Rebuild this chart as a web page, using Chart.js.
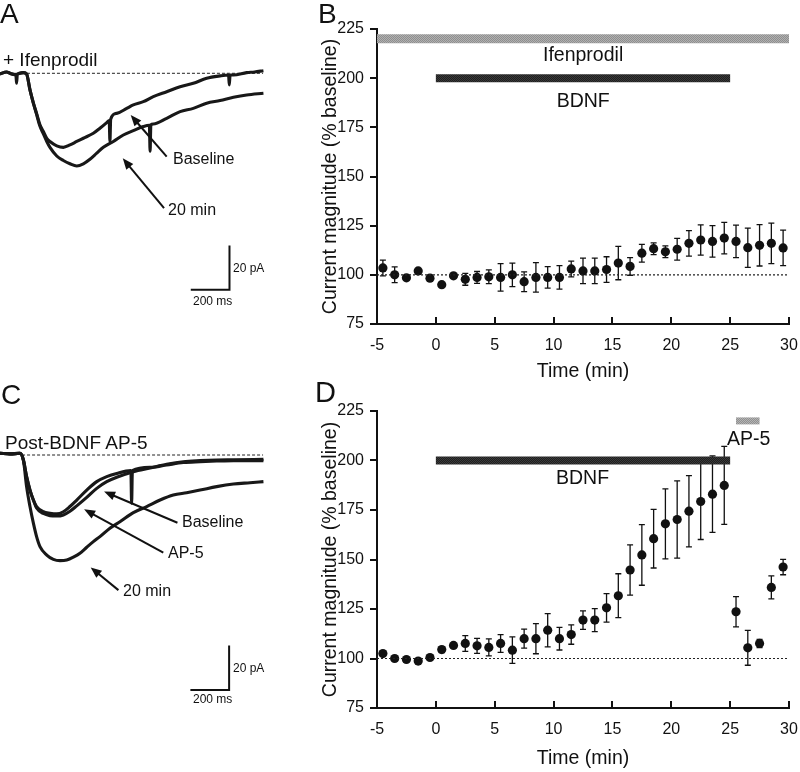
<!DOCTYPE html>
<html>
<head>
<meta charset="utf-8">
<title>BDNF potentiation of NMDA currents</title>
<script src="https://cdn.jsdelivr.net/npm/chart.js@4.4.1/dist/chart.umd.min.js"></script>
<style>
  body { margin: 0; background: #fff; }
  #fig { position: relative; width: 800px; height: 772px; overflow: hidden;
         font-family: "Liberation Sans", Arial, Helvetica, sans-serif; color: #111; }
  #fig canvas { position: absolute; }
  .lbl { position: absolute; line-height: 1; white-space: nowrap; }
  .narrow { font-family: "Liberation Sans Narrow", "Liberation Sans", Arial, sans-serif; font-stretch: condensed; }
</style>
</head>
<body>
<div id="fig">
  <canvas id="chartA" width="300" height="380" style="left:0;top:0"></canvas>
  <canvas id="chartB" width="500" height="387" style="left:300px;top:0"></canvas>
  <canvas id="chartC" width="300" height="392" style="left:0;top:380px"></canvas>
  <canvas id="chartD" width="500" height="387" style="left:300px;top:385px"></canvas>

  <div class="lbl" style="left:0;top:0;font-size:28px">A</div>
  <div class="lbl" style="left:318px;top:0;font-size:28px">B</div>
  <div class="lbl" style="left:1px;top:381px;font-size:28px">C</div>
  <div class="lbl" style="left:315px;top:378px;font-size:29px">D</div>

  <div class="lbl" style="left:3px;top:50px;font-size:19px">+ Ifenprodil</div>
  <div class="lbl" style="left:173px;top:150.6px;font-size:16px">Baseline</div>
  <div class="lbl" style="left:168px;top:202px;font-size:16px">20 min</div>
  <div class="lbl narrow" style="left:233px;top:261.7px;font-size:12px">20 pA</div>
  <div class="lbl narrow" style="left:193px;top:295px;font-size:12px">200 ms</div>

  <div class="lbl" style="left:543px;top:44.8px;font-size:19.5px">Ifenprodil</div>
  <div class="lbl" style="left:556.7px;top:90.8px;font-size:19.5px">BDNF</div>

  <div class="lbl" style="left:5px;top:432.5px;font-size:19px">Post-BDNF AP-5</div>
  <div class="lbl" style="left:182px;top:514px;font-size:16px">Baseline</div>
  <div class="lbl" style="left:168px;top:544.6px;font-size:16px">AP-5</div>
  <div class="lbl" style="left:123px;top:583px;font-size:16px">20 min</div>
  <div class="lbl narrow" style="left:233px;top:661.7px;font-size:12px">20 pA</div>
  <div class="lbl narrow" style="left:193px;top:693.4px;font-size:12px">200 ms</div>

  <div class="lbl" style="left:556px;top:467.5px;font-size:19.5px">BDNF</div>
  <div class="lbl" style="left:727px;top:429.2px;font-size:19.5px">AP-5</div>
</div>

<script>
// ---- data: panels B and D (mean +/- SEM, % of baseline, one point per minute) ----
const timeMin = [-4.5, -3.5, -2.5, -1.5, -0.5, 0.5, 1.5, 2.5, 3.5, 4.5, 5.5, 6.5,
  7.5, 8.5, 9.5, 10.5, 11.5, 12.5, 13.5, 14.5, 15.5, 16.5, 17.5, 18.5, 19.5,
  20.5, 21.5, 22.5, 23.5, 24.5, 25.5, 26.5, 27.5, 28.5, 29.5];

const bMean = [103.5, 100, 98.5, 102, 98.3, 95, 99.5, 97.7, 98.7, 99, 98.7, 100,
  96.5, 98.7, 98.7, 98.7, 103, 102, 102, 102.7, 106, 104.3, 111, 113.3, 111.7,
  113, 116, 117.7, 117, 118.7, 117, 113.8, 115, 116, 113.7];
const bSem = [4, 4, 0.5, 0.5, 1.5, 0.5, 0.5, 3, 3, 3.5, 7, 6,
  5, 7.5, 5.5, 6, 4, 6.5, 6.5, 6.5, 8.5, 4.5, 4.5, 3, 3,
  5.5, 6.5, 7.7, 8, 8, 8.3, 10, 10.5, 10.3, 9];

const dMean = [102.5, 100, 99.5, 98.7, 100.5, 104.5, 106.6, 107.6, 106.4, 105.6, 107.6, 104.2,
  110, 110, 114.3, 110, 112.1, 119.4, 119.4, 125.6, 131.7, 144.7, 152.3, 160.5, 168,
  170.2, 174.4, 179.3, 183, 187.4, 123.6, 105.4, 107.6, 135.9, 146.2];
const dSem = [1, 0.5, 0.5, 0.5, 0.5, 1.5, 1, 4, 3.8, 4.3, 4.5, 6.7,
  4.8, 7.6, 8.4, 5.7, 4.9, 4.7, 5.8, 7.2, 11.1, 12.7, 15.3, 14.8, 17.7,
  19.5, 18, 19.2, 19.3, 19.7, 7.6, 8.8, 2.1, 5.8, 3.9];

// drug application periods (min) and the level (% baseline) the bar sits at
const bTreatments = [
  { drug: "Ifenprodil", from: -5, to: 30, level: 220 },
  { drug: "BDNF", from: 0, to: 25, level: 200 }
];
const dTreatments = [
  { drug: "BDNF", from: 0, to: 25, level: 200 },
  { drug: "AP-5", from: 25.5, to: 27.5, level: 220 }
];

// ---- data: panels A and C (example currents, time in ms, current in pA) ----
const aBaseT = [0, 35, 53, 80, 84, 88, 92, 124, 141, 159, 177, 194, 212, 230, 248, 265, 301,
  336, 371, 407, 442, 495, 530, 566, 579, 583, 587, 619, 672, 707, 760, 813, 884, 955,
  1025, 1096, 1167, 1212, 1216, 1220, 1238, 1308, 1350, 1397];
const aBaseI = [-0.3, 0.6, 0, -0.6, -0.5, -4.6, -0.3, 0.3, -0.3, -7.7, -13.8, -18.5, -23.8, -26.9,
  -30, -31.5, -33.5, -34.2, -33.1, -31.5, -30, -27.7, -25.4, -22.8, -21.8, -31.5, -21.2,
  -18.5, -16.2, -14.6, -13.1, -10.8, -8.5, -6.2, -4.6, -2.3, -1.2, -0.8, -5.4, -0.8,
  -0.8, 0.3, 0.6, 1.2];
const a20T = [0, 35, 53, 80, 124, 141, 159, 177, 194, 212, 230, 248, 265, 301, 336, 371,
  407, 442, 477, 513, 548, 601, 654, 707, 760, 792, 796, 800, 813, 884, 955, 1025, 1096,
  1167, 1238, 1308, 1397];
const a20I = [-0.3, 0.6, 0, -0.6, 0.3, -0.3, -7.7, -13.8, -19, -24.5, -28, -31.5, -34.2,
  -38.2, -40.3, -41.8, -42.8, -41.8, -39.7, -36.9, -34.2, -31.5, -28.5, -26.5, -24.6,
  -24, -36, -23.8, -23.4, -20.8, -17.7, -16.2, -13.8, -12.6, -11.1, -10, -9.2];

const cBaseT = [0, 53, 106, 124, 141, 159, 177, 194, 230, 265, 301, 336, 371, 407, 460,
  513, 566, 619, 694, 698, 702, 796, 884, 972, 1061, 1149, 1238, 1397];
const cBaseI = [0.8, 0.5, 0.8, -2.3, -10, -16.2, -20.8, -23.8, -26.2, -26.9, -27.2, -26.2,
  -23.8, -20.8, -16.2, -12.3, -10, -8.5, -7.2, -22.3, -7.2, -5.7, -4.6, -3.5, -3.1, -2.8,
  -2.6, -2.6];
const cAp5T = [0, 53, 106, 124, 141, 159, 177, 194, 230, 265, 301, 336, 371, 407, 460,
  513, 566, 619, 707, 796, 884, 972, 1061, 1149, 1238, 1397];
const cAp5I = [0.8, 0.5, 0.8, -2.3, -10, -16.2, -20.8, -24.5, -27, -28, -28.2, -27.7, -26,
  -23.5, -19.6, -15.4, -12.3, -10.3, -7.7, -6, -4.3, -3.1, -2.6, -2.3, -2.2, -2];
const c20T = [0, 53, 106, 124, 141, 159, 177, 194, 212, 248, 283, 318, 354, 389, 424, 460,
  495, 530, 583, 636, 707, 778, 849, 919, 990, 1061, 1149, 1238, 1326, 1397];
const c20I = [0.8, 0.5, 0.8, -2.3, -14.6, -23.8, -31.5, -37.7, -42.3, -46.2, -48.2, -48.8,
  -48.5, -47.2, -45.4, -42.6, -40, -37.7, -33.8, -30.8, -26.6, -23.8, -20.8, -18.5, -17.4,
  -16.2, -14.6, -13.4, -12.8, -12.3];

// scale bars (200 ms, 20 pA) and annotation arrows, in data units
const scaleBarMs = 200;
const scaleBarPa = 20;
const aScaleCorner = { x: 1217, y: -100 };
const cScaleCorner = { x: 1215, y: -108.5 };
const aArrows = [
  { from: [884, -38.5], to: [693, -19.3] },
  { from: [870, -62.3], to: [651, -39.3] }
];
const cArrows = [
  { from: [941, -31.3], to: [552, -16.9] },
  { from: [866, -45.1], to: [446, -25.1] },
  { from: [628, -62.4], to: [481, -51.9] }
];

// ---- styling ----
Chart.defaults.font.family = '"Liberation Sans", Arial, Helvetica, sans-serif';
Chart.defaults.color = "#111";
const ink = "#111";

// speckled fill so the drug bars look like the printed halftone
function speckle(light, dark) {
  const c = document.createElement("canvas");
  c.width = 2; c.height = 2;
  const g = c.getContext("2d");
  g.fillStyle = light; g.fillRect(0, 0, 2, 2);
  g.fillStyle = dark; g.fillRect(0, 0, 1, 1); g.fillRect(1, 1, 1, 1);
  return g.createPattern(c, "repeat");
}
const barLook = {
  "Ifenprodil": { color: speckle("#b0b0b0", "#8e8e8e"), width: 9 },
  "BDNF": { color: speckle("#3a3a3a", "#1e1e1e"), width: 8 },
  "AP-5": { color: speckle("#b4b4b4", "#909090"), width: 7 }
};

// vertical SEM bars with small caps, drawn under the markers
const errorBars = {
  id: "errorBars",
  beforeDatasetsDraw(chart) {
    const { ctx, scales: { x, y } } = chart;
    chart.data.datasets.forEach(ds => {
      if (!ds.errors) return;
      ctx.save();
      ctx.strokeStyle = ink;
      ctx.lineWidth = 1.3;
      ds.data.forEach((pt, i) => {
        const e = ds.errors[i];
        const px = x.getPixelForValue(pt.x);
        const top = y.getPixelForValue(pt.y + e);
        const bot = y.getPixelForValue(pt.y - e);
        ctx.beginPath();
        ctx.moveTo(px, top); ctx.lineTo(px, bot);
        ctx.moveTo(px - 3, top); ctx.lineTo(px + 3, top);
        ctx.moveTo(px - 3, bot); ctx.lineTo(px + 3, bot);
        ctx.stroke();
      });
      ctx.restore();
    });
  }
};

function arrowPlugin(list) {
  return {
    id: "arrows",
    afterDatasetsDraw(chart) {
      const { ctx, scales: { x, y } } = chart;
      ctx.save();
      ctx.strokeStyle = ink;
      ctx.fillStyle = ink;
      ctx.lineWidth = 2;
      list.forEach(a => {
        const x1 = x.getPixelForValue(a.from[0]), y1 = y.getPixelForValue(a.from[1]);
        const x2 = x.getPixelForValue(a.to[0]), y2 = y.getPixelForValue(a.to[1]);
        const ang = Math.atan2(y2 - y1, x2 - x1);
        const head = 11, half = 4.5;
        ctx.beginPath();
        ctx.moveTo(x1, y1);
        ctx.lineTo(x2 - head * 0.8 * Math.cos(ang), y2 - head * 0.8 * Math.sin(ang));
        ctx.stroke();
        ctx.beginPath();
        ctx.moveTo(x2, y2);
        ctx.lineTo(x2 - head * Math.cos(ang) + half * Math.sin(ang), y2 - head * Math.sin(ang) - half * Math.cos(ang));
        ctx.lineTo(x2 - head * Math.cos(ang) - half * Math.sin(ang), y2 - head * Math.sin(ang) + half * Math.cos(ang));
        ctx.closePath();
        ctx.fill();
      });
      ctx.restore();
    }
  };
}

function xy(xs, ys) {
  return xs.map((v, i) => ({ x: v, y: ys[i] }));
}

// panels B and D
function timeCourseChart(id, mean, sem, treatments, pad) {
  const bars = treatments.map(t => ({
    data: [{ x: t.from, y: t.level }, { x: t.to, y: t.level }],
    borderColor: barLook[t.drug].color,
    borderWidth: barLook[t.drug].width,
    borderCapStyle: "butt",
    pointRadius: 0,
    clip: false
  }));
  return new Chart(document.getElementById(id), {
    type: "line",
    data: {
      datasets: [
        {
          data: [{ x: -5, y: 100 }, { x: 30, y: 100 }],
          borderColor: "#222", borderWidth: 1.2, borderDash: [2, 2],
          pointRadius: 0
        },
        ...bars,
        {
          data: xy(timeMin, mean),
          errors: sem,
          showLine: false,
          pointRadius: 4.6,
          pointBackgroundColor: ink,
          pointBorderWidth: 0,
          clip: false
        }
      ]
    },
    options: {
      responsive: false,
      animation: false,
      devicePixelRatio: 1,
      layout: { padding: { left: 19, right: 11, top: pad.top, bottom: pad.bottom } },
      plugins: { legend: { display: false }, tooltip: { enabled: false } },
      scales: {
        x: {
          type: "linear", min: -5, max: 30,
          ticks: { stepSize: 5, padding: 19, font: { size: 16 }, color: ink },
          grid: { drawOnChartArea: false, tickLength: -7, lineWidth: 2, color: ink },
          border: { color: ink, width: 2 },
          title: { display: true, text: "Time (min)", font: { size: 19.5 }, color: ink, padding: 0 },
          // labels sit low under inward ticks; keep the big label padding from shrinking the plot
          afterFit: s => { s.height = pad.xH; s.paddingLeft = 9; s.paddingRight = 10; }
        },
        y: {
          type: "linear", min: 75, max: 225,
          ticks: { stepSize: 25, padding: 6, font: { size: 16 }, color: ink },
          grid: { drawOnChartArea: false, tickLength: 7, lineWidth: 2, color: ink },
          border: { color: ink, width: 2 },
          title: { display: true, text: "Current magnitude (% baseline)", font: { size: 19.5 }, color: ink, padding: 0 },
          afterFit: s => { s.width = 58; }
        }
      }
    },
    plugins: [errorBars]
  });
}

// panels A and C
function traceChart(id, traces, baselineFrom, corner, arrows, yMin, pad) {
  const sets = traces.map(tr => ({
    data: xy(tr[0], tr[1]),
    borderColor: "#181818",
    borderWidth: 3.1,
    pointRadius: 0,
    cubicInterpolationMode: "monotone"
  }));
  sets.push({
    data: [{ x: baselineFrom, y: 0 }, { x: 1395, y: 0 }],
    borderColor: "#222", borderWidth: 1, borderDash: [3, 2], pointRadius: 0
  });
  sets.push({
    data: [
      { x: corner.x - scaleBarMs, y: corner.y },
      { x: corner.x, y: corner.y },
      { x: corner.x, y: corner.y + scaleBarPa }
    ],
    borderColor: ink, borderWidth: 2, pointRadius: 0, borderCapStyle: "square", clip: false
  });
  return new Chart(document.getElementById(id), {
    type: "line",
    data: { datasets: sets },
    options: {
      responsive: false,
      animation: false,
      devicePixelRatio: 1,
      layout: { padding: pad },
      plugins: { legend: { display: false }, tooltip: { enabled: false } },
      scales: {
        x: { type: "linear", display: false, min: 0, max: 1400 },
        y: { type: "linear", display: false, min: yMin, max: 20 }
      }
    },
    plugins: [arrowPlugin(arrows)]
  });
}

traceChart("chartA", [[aBaseT, aBaseI], [a20T, a20I]], 143, aScaleCorner, aArrows, -105,
  { left: 0, right: 36, top: 30, bottom: 79.4 });
traceChart("chartC", [[cBaseT, cBaseI], [cAp5T, cAp5I], [c20T, c20I]], 117, cScaleCorner, cArrows, -115,
  { left: 0, right: 36, top: 31.7, bottom: 68 });
timeCourseChart("chartB", bMean, bSem, bTreatments, { top: 29, bottom: 4, xH: 59 });
timeCourseChart("chartD", dMean, dSem, dTreatments, { top: 26, bottom: 2, xH: 62 });
</script>
</body>
</html>
